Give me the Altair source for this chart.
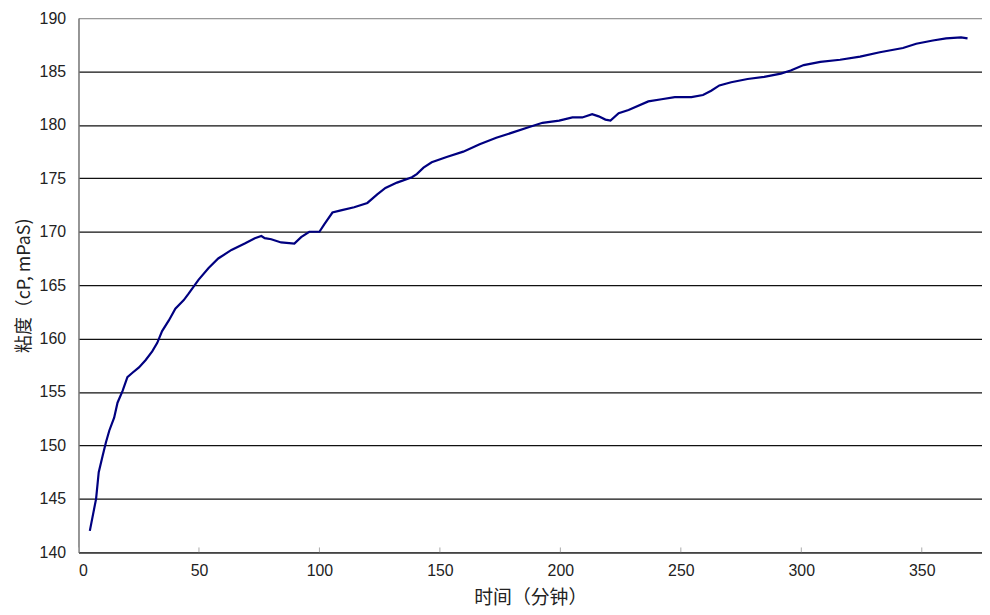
import altair as alt
import pandas as pd

# time (minutes) and viscosity (cP, mPaS)
minutes = [4.7, 7.3, 8.4, 10.0, 11.4, 12.8, 14.8, 16.2, 18.3, 20.3, 22.4, 25.1, 27.9, 30.6,
           32.7, 34.7, 37.5, 40.2, 43.7, 45.7, 49.8, 54.0, 58.0, 63.5, 69.0, 73.2, 75.9,
           77.3, 80.0, 84.1, 89.6, 92.4, 95.8, 100.0, 102.0, 105.4, 108.9, 114.4, 119.9,
           124.0, 127.4, 132.2, 138.4, 140.4, 143.2, 146.6, 152.8, 159.7, 166.5, 173.4,
           180.3, 187.1, 192.6, 199.5, 205.0, 209.1, 213.2, 215.9, 218.7, 220.8, 224.2,
           228.3, 236.5, 242.0, 247.5, 254.4, 259.2, 262.6, 266.0, 270.9, 277.7, 284.6,
           291.5, 295.6, 301.0, 307.9, 316.1, 324.4, 332.6, 342.2, 347.7, 354.6, 360.1,
           366.3, 369.0]
viscosity = [142.0, 145.0, 147.5, 149.0, 150.3, 151.4, 152.6, 154.0, 155.1, 156.4, 156.8,
             157.3, 158.0, 158.8, 159.6, 160.7, 161.7, 162.8, 163.6, 164.2, 165.5, 166.6,
             167.5, 168.3, 168.9, 169.4, 169.6, 169.4, 169.3, 169.0, 168.9, 169.5, 170.0,
             170.0, 170.7, 171.8, 172.0, 172.3, 172.7, 173.5, 174.1, 174.6, 175.1, 175.4,
             176.0, 176.5, 177.0, 177.5, 178.2, 178.8, 179.3, 179.8, 180.2, 180.4, 180.7,
             180.7, 181.0, 180.8, 180.5, 180.4, 181.1, 181.4, 182.2, 182.4, 182.6, 182.6,
             182.8, 183.2, 183.7, 184.0, 184.3, 184.5, 184.8, 185.1, 185.6, 185.9, 186.1,
             186.4, 186.8, 187.2, 187.6, 187.9, 188.1, 188.2, 188.1]

x_ticks = [0, 50, 100, 150, 200, 250, 300, 350]
y_ticks = [140, 145, 150, 155, 160, 165, 170, 175, 180, 185, 190]

x_title = "时间（分钟）"
y_title = "粘度（cP, mPaS)"

df = pd.DataFrame({"t": minutes, "v": viscosity})
ticks_df = pd.DataFrame({"t": x_ticks})

FONT = "Liberation Sans"
TFONT = "Noto Sans CJK SC"

x_scale = alt.Scale(domain=[0, 375], nice=False, zero=False)
y_scale = alt.Scale(domain=[140, 190], nice=False, zero=False)

line = alt.Chart(df).mark_line(color="#000080", strokeWidth=2.2).encode(
    x=alt.X("t:Q", scale=x_scale,
            axis=alt.Axis(values=x_ticks, title=x_title, grid=False, tickSize=0,
                          labelPadding=10, labelFontSize=16, labelFont=FONT,
                          labelColor="#222", titleFont=TFONT, titleFontSize=19,
                          titleFontWeight="normal", titleColor="#222", titlePadding=11,
                          domainColor="#444", domainWidth=1.5)),
    y=alt.Y("v:Q", scale=y_scale,
            axis=alt.Axis(values=y_ticks, title=y_title, grid=True,
                          gridColor={"condition": {"test": "datum.value == 190", "value": "#999"},
                                     "value": "#111"},
                          gridWidth=1.3, tickSize=0, labelPadding=13, labelFontSize=16,
                          labelFont=FONT, labelColor="#222", titleFont=TFONT,
                          titleFontSize=18, titleFontWeight="normal", titleColor="#222",
                          titlePadding=6, domainColor="#777", domainWidth=1.5)),
)

tick_marks = alt.Chart(ticks_df).mark_rule(color="#aaa", strokeWidth=1).encode(
    x=alt.X("t:Q", scale=x_scale),
    y=alt.datum(140),
    y2=alt.datum(140.45),
)

chart = alt.layer(tick_marks, line).properties(
    width=910, height=538,
    autosize=alt.AutoSizeParams(type="none"),
    padding={"left": 71, "top": 8, "right": 0, "bottom": 59},
).configure_view(stroke=None).configure(background="white")

chart.save("out.html", embed_options={"renderer": "svg", "actions": False})
